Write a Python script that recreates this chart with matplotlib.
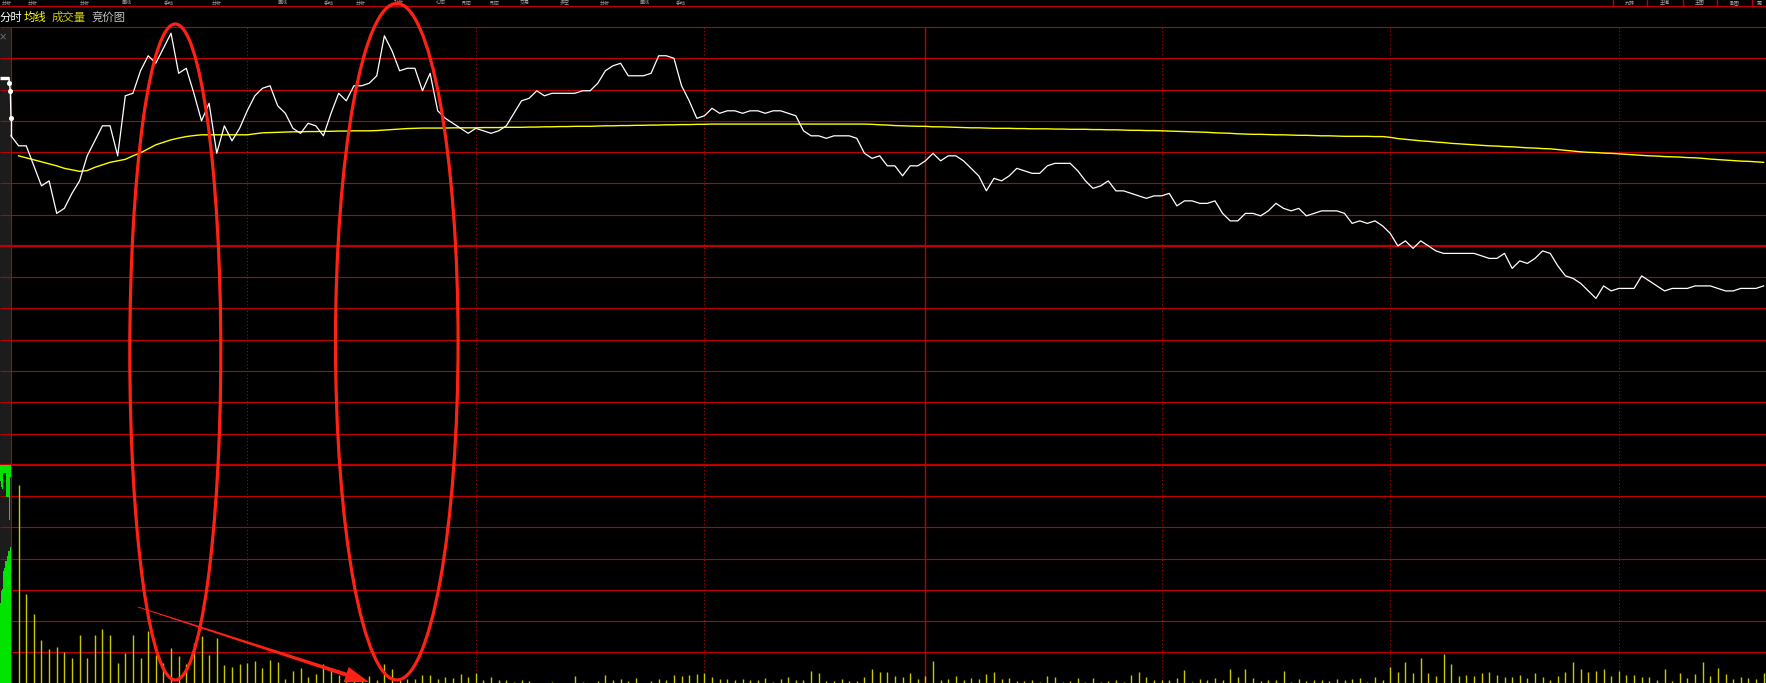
import numpy as np
import matplotlib
matplotlib.use("Agg")
import matplotlib.pyplot as plt
from matplotlib.patches import Ellipse, Polygon, Rectangle

plt.rcParams['font.family'] = ['Noto Sans CJK SC', 'DejaVu Sans']

# ---------------- data ----------------
prev_close = 25.00
price_step = 0.125          # price per grid row
nan = float('nan')

minutes = list(range(231))

price = [
    25.44, 25.40, 25.40, 25.32, 25.24, 25.26, 25.13, 25.15, 25.21, 25.26,
    25.36, 25.42, 25.48, 25.48, 25.36, 25.60, 25.61, 25.70, 25.76, 25.73,
    25.79, 25.85, 25.69, 25.71, 25.61, 25.50, 25.57, 25.37, 25.48, 25.42,
    25.47, 25.54, 25.60, 25.63, 25.64, 25.56, 25.53, 25.47, 25.45, 25.49,
    25.48, 25.44, 25.53, 25.61, 25.58, 25.64, 25.64, 25.65, 25.68, 25.84,
    25.78, 25.70, 25.71, 25.71, 25.62, 25.69, 25.54, 25.51, 25.49, 25.47,
    25.45, 25.47, 25.46, 25.45, 25.46, 25.48, 25.53, 25.58, 25.59, 25.62,
    25.60, 25.61, 25.61, 25.61, 25.61, 25.62, 25.62, 25.65, 25.70, 25.72,
    25.73, 25.68, 25.68, 25.68, 25.69, 25.76, 25.76, 25.75, 25.64, 25.58,
    25.51, 25.52, 25.55, 25.53, 25.54, 25.54, 25.53, 25.54, 25.54, 25.53,
    25.54, 25.54, 25.53, 25.52, 25.46, 25.44, 25.44, 25.43, 25.44, 25.44,
    25.44, 25.43, 25.37, 25.35, 25.36, 25.32, 25.32, 25.28, 25.32, 25.32,
    25.34, 25.37, 25.34, 25.36, 25.36, 25.34, 25.31, 25.28, 25.22, 25.27,
    25.26, 25.28, 25.31, 25.30, 25.29, 25.29, 25.32, 25.33, 25.33, 25.33,
    25.30, 25.26, 25.23, 25.24, 25.26, 25.22, 25.22, 25.21, 25.20, 25.19,
    25.20, 25.20, 25.21, 25.16, 25.18, 25.18, 25.17, 25.17, 25.18, 25.13,
    25.10, 25.10, 25.13, 25.13, 25.12, 25.14, 25.17, 25.15, 25.14, 25.15,
    25.12, 25.13, 25.14, 25.14, 25.14, 25.13, 25.09, 25.10, 25.09, 25.10,
    25.08, 25.05, 25.00, 25.02, 24.99, 25.02, 25.00, 24.98, 24.97, 24.97,
    24.97, 24.97, 24.97, 24.96, 24.95, 24.95, 24.97, 24.91, 24.94, 24.93,
    24.95, 24.98, 24.97, 24.92, 24.88, 24.87, 24.85, 24.82, 24.79, 24.84,
    24.82, 24.83, 24.83, 24.83, 24.88, 24.86, 24.84, 24.82, 24.83, 24.83,
    24.83, 24.84, 24.84, 24.84, 24.83, 24.82, 24.82, 24.83, 24.83, 24.83, 24.84,
]

avg_price = [
    nan,
    25.360, 25.352, 25.344, 25.336, 25.328, 25.320, 25.310, 25.304, 25.298, 25.301,
    25.314, 25.324, 25.334, 25.340, 25.346, 25.360, 25.372, 25.388, 25.404, 25.414,
    25.424, 25.431, 25.437, 25.441, 25.444, 25.444, 25.444, 25.444, 25.444, 25.444,
    25.444, 25.448, 25.452, 25.453, 25.454, 25.455, 25.456, 25.456, 25.457, 25.457,
    25.458, 25.458, 25.459, 25.459, 25.460, 25.460, 25.460, 25.461, 25.463, 25.465,
    25.467, 25.469, 25.470, 25.471, 25.471, 25.471, 25.471, 25.472, 25.472, 25.472,
    25.472, 25.473, 25.473, 25.473, 25.474, 25.474, 25.474, 25.475, 25.475, 25.476,
    25.476, 25.477, 25.477, 25.478, 25.478, 25.478, 25.479, 25.480, 25.480, 25.481,
    25.481, 25.482, 25.482, 25.483, 25.483, 25.484, 25.484, 25.485, 25.485, 25.486,
    25.486, 25.487, 25.487, 25.487, 25.487, 25.487, 25.487, 25.487, 25.487, 25.487,
    25.487, 25.487, 25.487, 25.487, 25.487, 25.487, 25.487, 25.487, 25.487, 25.487,
    25.487, 25.487, 25.486, 25.484, 25.483, 25.481, 25.480, 25.479, 25.478, 25.478,
    25.476, 25.476, 25.475, 25.474, 25.473, 25.472, 25.472, 25.471, 25.470, 25.470,
    25.470, 25.469, 25.469, 25.468, 25.468, 25.468, 25.467, 25.467, 25.466, 25.466,
    25.466, 25.465, 25.465, 25.464, 25.464, 25.463, 25.462, 25.462, 25.461, 25.461,
    25.460, 25.459, 25.458, 25.457, 25.456, 25.455, 25.454, 25.452, 25.451, 25.450,
    25.448, 25.447, 25.446, 25.446, 25.445, 25.444, 25.444, 25.443, 25.442, 25.442,
    25.441, 25.440, 25.440, 25.439, 25.438, 25.438, 25.438, 25.438, 25.437, 25.437,
    25.434, 25.429, 25.426, 25.423, 25.420, 25.418, 25.415, 25.413, 25.410, 25.408,
    25.406, 25.404, 25.402, 25.400, 25.399, 25.397, 25.396, 25.394, 25.392, 25.391,
    25.389, 25.388, 25.385, 25.382, 25.379, 25.376, 25.374, 25.373, 25.371, 25.370,
    25.368, 25.366, 25.364, 25.362, 25.360, 25.359, 25.357, 25.356, 25.355, 25.353,
    25.352, 25.350, 25.347, 25.345, 25.343, 25.341, 25.339, 25.338, 25.336, 25.334,
]

# volume in hundreds of lots
volume = [
    0,
    199, 90, 70, 44, 35, 37, 32, 26, 49, 26,
    49, 55, 49, 21, 31, 49, 26, 53, 29, 21,
    36, 28, 20, 41, 48, 29, 46, 19, 17, 20,
    21, 23, 16, 24, 22, 5, 13, 16, 7, 10,
    20, 14, 9, 5, 5, 4, 8, 4, 20, 15,
    5, 5, 5, 9, 9, 5, 7,
    6, 10, 7, 11, 4, 7, 4, 4, 2, 4,
    3, 1, 1, 2, 1, 1, 8, 2, 1, 3,
    9, 4, 5, 3, 6, 1, 3, 5, 4, 9,
    8, 9, 10, 11, 7, 5, 5, 4, 5, 4,
    4, 6, 2, 5, 7, 4, 4, 13, 11, 3,
    3, 5, 3, 3, 7, 15, 12, 12, 8, 7,
    11, 5, 8, 23, 4, 5, 8, 4, 6, 5,
    10, 12, 5, 6, 3, 3, 4, 2, 8, 7,
    2, 3, 6, 2, 6,
    2, 3, 4, 2, 9, 12, 7, 4, 4, 4,
    6, 14, 2, 5, 4, 6, 4, 15, 7, 15,
    6, 3, 4, 4, 13, 2, 5, 3, 4, 4,
    3, 5, 4, 5, 6, 2, 7, 4, 17, 12,
    22, 11, 26, 11, 8, 30, 20, 8, 9, 8,
    11, 12, 9, 7, 7, 9, 6, 11, 7, 4,
    8, 12, 22, 15, 12, 13, 15, 8, 13, 9,
    9, 7, 7, 4, 15, 3, 11, 6, 10, 22,
    8, 16, 10, 5, 7, 6, 5, 11,
]

auction_time = [0.0, 8.2, 8.5, 9.4, 10.0]
auction_price = [25.67, 25.67, 25.65, 25.62, 25.51]
auction_matched = [81, 93, 95, 113, 116, 123, 123, 128, 133, 133, 137]
auction_unmatched = [16, 22, 24, 8, 8, 8, 32, 32, 32, 55, 12]

time_marks = [31, 61, 91, 151, 181, 211]
midday_mark = 120

tab_labels = ['分时', '均线', '成交量', '竞价图']
tab_colors = ['#ffffff', '#ffff00', '#cccc00', '#c4c4c4']
tab_x = [0, 24, 52, 92]

toolbar_labels = ['分析', '分析', '分析', '画线', '手动', '分析', '画线', '手动', '分析',
                  '补析', '心态', '形态', '形态', '交易', '多空', '分析', '画线', '手动']
toolbar_x = [2, 28, 80, 122, 164, 212, 278, 324, 356, 394, 436, 462, 490, 520, 560, 600, 640, 676]
right_buttons = ['九转', '主编', '主图', '副图', '更']
right_seps = [1613, 1647, 1683, 1717, 1752]

# ---------------- layout ----------------
W, H = 1766, 683
LEFT = 11.0
TOP = 27.0
ROW = 31.27
PX_PER_MIN = 7.62
PRICE_ROWS = 14
VOL_ROWS = 7
price_bottom_px = TOP + PRICE_ROWS * ROW
vol_bottom_px = price_bottom_px + VOL_ROWS * ROW

RED = '#c00000'
WHITE = '#ffffff'
YELLOW = '#ffff00'
VOLC = '#c8c800'
GREEN = '#00e400'
STRIP = '#1c1c1c'
ANNOT = '#ff2214'

fig = plt.figure(figsize=(W / 100, H / 100), dpi=100, facecolor='black')

# background axes in pixel coordinates (grid, strip, header)
bg = fig.add_axes([0, 0, 1, 1])
bg.set_xlim(0, W)
bg.set_ylim(H, 0)
bg.axis('off')

bg.add_patch(Rectangle((0, TOP + 0.5), LEFT, H - TOP, color=STRIP, lw=0, zorder=0))
for k in range(PRICE_ROWS + VOL_ROWS):
    y = TOP + k * ROW
    lw = 1.6 if k in (7, 14) else 0.8
    bg.plot([0, W], [y, y], color=RED, lw=lw, zorder=1, solid_capstyle='butt')
bg.plot([LEFT, LEFT], [TOP, H], color=RED, lw=0.8, zorder=1)
bg.plot([0, W], [6.3, 6.3], color=RED, lw=1.0, zorder=1)
for xs in right_seps:
    bg.plot([xs, xs], [0, 6.3], color=RED, lw=1.0, zorder=1)

# tiny toolbar text in the top strip
for lab, x in zip(toolbar_labels, toolbar_x):
    bg.text(x, 3.0, lab, color='#a8a8a8', fontsize=3.6, ha='left', va='center', zorder=2)
for i, lab in enumerate(right_buttons):
    x0 = right_seps[i]
    x1 = right_seps[i + 1] if i + 1 < len(right_seps) else W
    bg.text((x0 + x1) / 2, 3.0, lab, color='#a8a8a8', fontsize=3.6, ha='center', va='center', zorder=2)

# tab labels
for lab, c, x in zip(tab_labels, tab_colors, tab_x):
    bg.text(x, 17.3, lab, color=c, fontsize=8.2, ha='left', va='center', zorder=2)
bg.text(3.2, 36.5, '×', color='#909090', fontsize=6, ha='center', va='center', zorder=2)

# ---------------- price panel ----------------
x_right = (W - LEFT) / PX_PER_MIN
ax_p = fig.add_axes([LEFT / W, (H - price_bottom_px) / H, (W - LEFT) / W, PRICE_ROWS * ROW / H])
ax_p.set_facecolor('none')
ax_p.axis('off')
ax_p.set_xlim(0, x_right)
ax_p.set_ylim(prev_close - 7 * price_step, prev_close + 7 * price_step)
for t in time_marks:
    ax_p.axvline(t, color=RED, lw=0.75, ls=(0, (1, 2.2)), zorder=1)
ax_p.axvline(midday_mark, color=RED, lw=1.0, zorder=1)
ax_p.plot(minutes, avg_price, color=YELLOW, lw=1.0, zorder=3)
ax_p.plot(minutes, price, color=WHITE, lw=0.9, zorder=4, clip_on=False)

# ---------------- volume panel ----------------
ax_v = fig.add_axes([LEFT / W, (H - vol_bottom_px) / H, (W - LEFT) / W, VOL_ROWS * ROW / H])
ax_v.set_facecolor('none')
ax_v.axis('off')
ax_v.set_xlim(0, x_right)
ax_v.set_ylim(0, VOL_ROWS * ROW)
for t in time_marks:
    ax_v.axvline(t, color=RED, lw=0.75, ls=(0, (1, 2.2)), zorder=1)
ax_v.axvline(midday_mark, color=RED, lw=1.0, zorder=1)
ax_v.vlines(minutes, 0, volume, color=VOLC, lw=1.0, zorder=3)

# ---------------- auction strip ----------------
ax_a = fig.add_axes([0, (H - price_bottom_px) / H, LEFT / W, PRICE_ROWS * ROW / H])
ax_a.set_facecolor('none')
ax_a.axis('off')
ax_a.set_xlim(0, 10.0)
ax_a.set_ylim(prev_close - 7 * price_step, prev_close + 7 * price_step)
ax_a.plot(auction_time[:2], auction_price[:2], color=WHITE, lw=2.4, solid_capstyle='butt')
ax_a.plot(auction_time[1:], auction_price[1:], color=WHITE, lw=1.0, clip_on=False)
ax_a.plot(auction_time[2:], auction_price[2:], 'o', color=WHITE, ms=2.6, clip_on=False)
ax_a.plot([auction_time[-1], auction_time[-1]], [auction_price[-1], price[0]], color=WHITE, lw=1.0, clip_on=False)

ax_av = fig.add_axes([0, (H - vol_bottom_px) / H, LEFT / W, VOL_ROWS * ROW / H])
ax_av.set_facecolor('none')
ax_av.axis('off')
ax_av.set_xlim(0, len(auction_matched))
vtop = VOL_ROWS * ROW
ax_av.set_ylim(0, vtop)
xa = np.arange(len(auction_matched)) + 0.5
ax_av.bar(xa, auction_matched, width=1.0, color=GREEN, lw=0)
ax_av.bar(xa, auction_unmatched, bottom=[vtop - u for u in auction_unmatched], width=1.0, color=GREEN, lw=0)

# ---------------- hand-drawn annotations ----------------
ov = fig.add_axes([0, 0, 1, 1])
ov.set_facecolor('none')
ov.set_xlim(0, W)
ov.set_ylim(H, 0)
ov.axis('off')
ov.add_patch(Ellipse((175.3, 352.0), 91.0, 656.0, fill=False, ec=ANNOT, lw=2.3))
ov.add_patch(Ellipse((396.8, 341.7), 122.6, 676.6, fill=False, ec=ANNOT, lw=2.3))

S = np.array([138.0, 607.0])
T = np.array([369.0, 682.0])
u = (T - S) / np.linalg.norm(T - S)
n = np.array([-u[1], u[0]])
L, hw = 24.0, 8.0
B = T - u * L
poly = [S + n * 0.4, B + n * 2.0, B + n * hw, T, B - n * hw, B - n * 2.0, S - n * 0.4]
ov.add_patch(Polygon(poly, closed=True, color=ANNOT, lw=0))

fig.savefig('out.png', dpi=100, facecolor='black')
